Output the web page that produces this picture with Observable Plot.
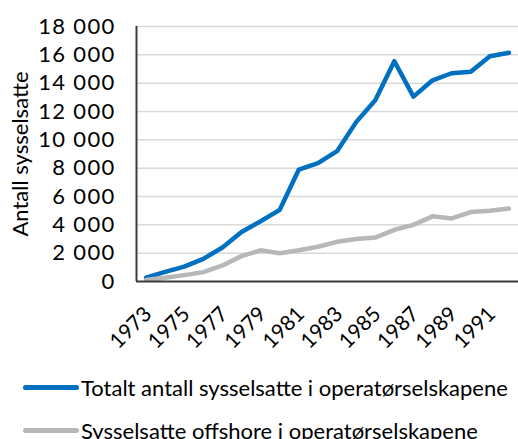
<!DOCTYPE html>
<html>
<head>
<meta charset="utf-8">
<script src="https://cdn.jsdelivr.net/npm/d3@7"></script>
<script src="https://cdn.jsdelivr.net/npm/@observablehq/plot@0.6"></script>
<style>
  body { margin: 0; background: #fff; font-family: Lato, "Open Sans", sans-serif; color: #000; }
  #chart svg { display: block; }
  .legend { width: 518px; }
  .row { display: flex; align-items: center; height: 43px; font-size: 22px; white-space: nowrap; }
  .sw { display: inline-block; width: 56px; height: 5px; border-radius: 3px; margin-left: 23px; margin-right: 2px; }
</style>
</head>
<body>
<div id="chart"></div>
<div class="legend" id="legend"></div>
<script>
const years = [1973, 1974, 1975, 1976, 1977, 1978, 1979, 1980, 1981, 1982, 1983, 1984, 1985, 1986, 1987, 1988, 1989, 1990, 1991, 1992];
const total = [280, 680, 1050, 1600, 2400, 3500, 4250, 5060, 7900, 8350, 9200, 11250, 12800, 15550, 13050, 14200, 14700, 14800, 15900, 16150];
const offshore = [100, 260, 450, 660, 1130, 1790, 2200, 2000, 2200, 2450, 2800, 3000, 3100, 3650, 4000, 4600, 4450, 4900, 5000, 5150];
const seriesNames = ["Totalt antall sysselsatte i operatørselskapene", "Sysselsatte offshore i operatørselskapene"];
const colors = ["#0070c0", "#b7b7b7"];
const xTicks = [1973, 1975, 1977, 1979, 1981, 1983, 1985, 1987, 1989, 1991];
const yTicks = [0, 2000, 4000, 6000, 8000, 10000, 12000, 14000, 16000, 18000];
const yLabel = "Antall sysselsatte";

const rows = [];
years.forEach((y, i) => {
  rows.push({year: y, value: total[i], series: seriesNames[0]});
});
years.forEach((y, i) => {
  rows.push({year: y, value: offshore[i], series: seriesNames[1]});
});

const fmt = d => d3.format(",")(d).replace(/,/g, " ");

const chart = Plot.plot({
  width: 518,
  height: 366,
  marginLeft: 136,
  marginRight: 0,
  marginTop: 26,
  marginBottom: 85,
  style: {fontFamily: "Lato, 'Open Sans', sans-serif", fontSize: "22px", color: "#000", background: "#fff", overflow: "visible"},
  x: {domain: [1972.5, 1992.5], axis: null},
  y: {domain: [0, 18000], axis: null},
  color: {domain: seriesNames, range: colors},
  marks: [
    Plot.gridY(yTicks.filter(d => d > 0), {stroke: "#d9d9d9", strokeOpacity: 1, strokeWidth: 1.5}),
    Plot.axisY(yTicks, {tickSize: 0, tickPadding: 21, tickFormat: fmt, fontSize: 22, label: null}),
    Plot.axisX(xTicks, {tickSize: 0, tickPadding: 18, dy: 11, dx: 2, tickRotate: -45, tickFormat: d => String(d), fontSize: 21, label: null}),
    Plot.text([yLabel], {frameAnchor: "left", dx: -116, rotate: -90, textAnchor: "middle", fontSize: 22, text: d => d}),
    Plot.line(rows, {x: "year", y: "value", stroke: "series", z: "series", strokeWidth: 4.5, strokeLinejoin: "round", strokeLinecap: "round"}),
    Plot.ruleX([1972.5], {y1: 0, y2: 18000, stroke: "#3a3a3a", strokeWidth: 2}),
    Plot.ruleY([0], {stroke: "#3a3a3a", strokeWidth: 2})
  ]
});
chart.querySelectorAll("g[aria-label='y-axis tick label'] text, g[aria-label='y-axis tick label']").forEach(n => n.setAttribute("letter-spacing", "1.3"));
document.getElementById("chart").appendChild(chart);

const legend = document.getElementById("legend");
seriesNames.forEach((name, i) => {
  const row = document.createElement("div");
  row.className = "row";
  const sw = document.createElement("span");
  sw.className = "sw";
  sw.style.background = colors[i];
  const t = document.createElement("span");
  t.textContent = name;
  row.appendChild(sw);
  row.appendChild(t);
  legend.appendChild(row);
});
</script>
</body>
</html>
